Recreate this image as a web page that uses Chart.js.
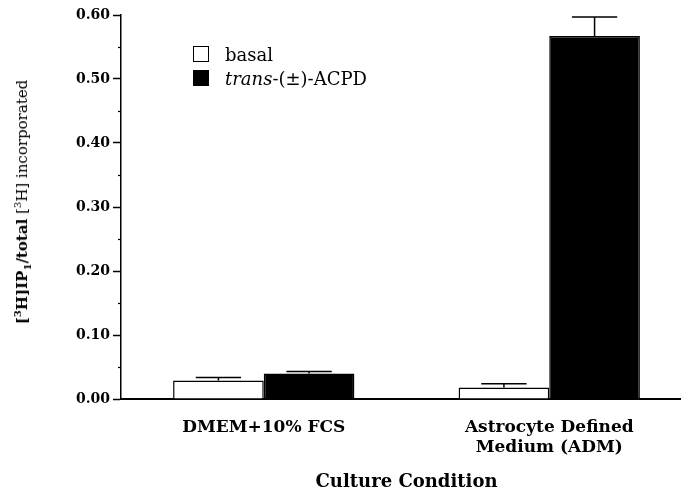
<!DOCTYPE html>
<html>
<head>
<meta charset="utf-8">
<script src="https://cdn.jsdelivr.net/npm/chart.js@4"></script>
<style>
  html, body { margin: 0; padding: 0; background: #fff; overflow: hidden; width: 681px; height: 495px; }
  #wrap { position: relative; width: 692px; height: 495px; }
  #ytitle {
    position: absolute; left: 22px; top: 202px; white-space: nowrap;
    transform: translate(-50%, -50%) rotate(-90deg);
    font-family: 'DejaVu Serif', serif; font-size: 15px; color: #000;
  }
  #ytitle sup, #ytitle sub { font-size: 10px; line-height: 0; }
  #legend { position: absolute; left: 193px; top: 42px; font-family: 'DejaVu Serif', serif; font-size: 18px; color: #000; }
  .row { display: flex; align-items: center; height: 24px; }
  .box { width: 16px; height: 16px; border: 1.5px solid #000; margin-right: 16px; box-sizing: border-box; }
</style>
</head>
<body>
<div id="wrap">
  <canvas id="c"></canvas>
  <div id="ytitle"><b>[<sup>3</sup>H]IP<sub>1</sub>/total</b> [<sup>3</sup>H] incorporated</div>
  <div id="legend"></div>
</div>
<script>
const categories = ['DMEM+10% FCS', ['Astrocyte Defined', 'Medium (ADM)']];
const seriesNames = ['basal', 'trans-(±)-ACPD'];
const basal = [0.029, 0.018];
const basalErr = [0.0047, 0.0058];
const acpd = [0.040, 0.567];
const acpdErr = [0.003, 0.030];
const yTickValues = [0.00, 0.10, 0.20, 0.30, 0.40, 0.50, 0.60];
const xTitle = 'Culture Condition';
const fills = ['#ffffff', '#000000'];
const errs = [basalErr, acpdErr];

// HTML legend (real text, italic "trans")
const legend = document.getElementById('legend');
seriesNames.forEach((name, i) => {
  const row = document.createElement('div'); row.className = 'row';
  const box = document.createElement('div'); box.className = 'box'; box.style.background = fills[i];
  const txt = document.createElement('span');
  if (name.startsWith('trans')) {
    const it = document.createElement('i'); it.textContent = 'trans';
    txt.appendChild(it); txt.appendChild(document.createTextNode(name.slice(5)));
  } else txt.textContent = name;
  row.appendChild(box); row.appendChild(txt); legend.appendChild(row);
});

const errorBars = {
  id: 'errorBars',
  afterDatasetsDraw(chart) {
    const ctx = chart.ctx, y = chart.scales.y;
    ctx.save();
    ctx.strokeStyle = '#000'; ctx.lineWidth = 1.5;
    chart.data.datasets.forEach((ds, i) => {
      const meta = chart.getDatasetMeta(i);
      meta.data.forEach((el, j) => {
        const top = y.getPixelForValue(ds.data[j] + errs[i][j]);
        const half = el.width / 4;
        ctx.beginPath();
        ctx.moveTo(el.x, el.y); ctx.lineTo(el.x, top);
        ctx.moveTo(el.x - half, top); ctx.lineTo(el.x + half, top);
        ctx.stroke();
      });
    });
    ctx.restore();
  }
};

const minorTicks = {
  id: 'minorTicks',
  afterDraw(chart) {
    const ctx = chart.ctx, y = chart.scales.y, left = chart.chartArea.left;
    ctx.save(); ctx.strokeStyle = '#000'; ctx.lineWidth = 1.2;
    for (let k = 0; k < yTickValues.length - 1; k++) {
      const v = (yTickValues[k] + yTickValues[k + 1]) / 2;
      const p = Math.round(y.getPixelForValue(v)) + 0.5;
      ctx.beginPath(); ctx.moveTo(left - 3, p); ctx.lineTo(left, p); ctx.stroke();
    }
    ctx.restore();
  }
};

Chart.defaults.font.family = "'DejaVu Serif', serif";
Chart.defaults.color = '#000';

new Chart(document.getElementById('c'), {
  type: 'bar',
  data: {
    labels: categories,
    datasets: seriesNames.map((n, i) => ({
      label: n,
      data: i === 0 ? basal : acpd,
      backgroundColor: fills[i],
      borderColor: '#000',
      borderWidth: 1.5,
      barPercentage: 1.0,
      categoryPercentage: 0.635
    }))
  },
  options: {
    responsive: true,
    maintainAspectRatio: false,
    animation: false,
    layout: { padding: { top: 15, left: 0, right: 0, bottom: 0 } },
    plugins: { legend: { display: false }, tooltip: { enabled: false } },
    scales: {
      x: {
        afterFit(scale) { scale.height = 96; },
        grid: { display: false },
        border: { display: true, color: '#000', width: 2 },
        ticks: { font: { size: 17, weight: 'bold' }, padding: 10, maxRotation: 0, autoSkip: false },
        title: { display: true, text: xTitle, font: { size: 18, weight: 'bold' }, padding: { top: 10, bottom: 2 } }
      },
      y: {
        min: 0, max: 0.6,
        afterBuildTicks(scale) { scale.ticks = yTickValues.map(v => ({ value: v })); },
        afterFit(scale) { scale.width = 121; },
        grid: { drawOnChartArea: false, drawTicks: true, tickLength: 8, tickColor: '#000', tickWidth: 1.5 },
        border: { display: true, color: '#000', width: 1.5 },
        ticks: { font: { size: 14, weight: 'bold' }, padding: 3, callback: v => Number(v).toFixed(2) }
      }
    }
  },
  plugins: [errorBars, minorTicks]
});
</script>
</body>
</html>
